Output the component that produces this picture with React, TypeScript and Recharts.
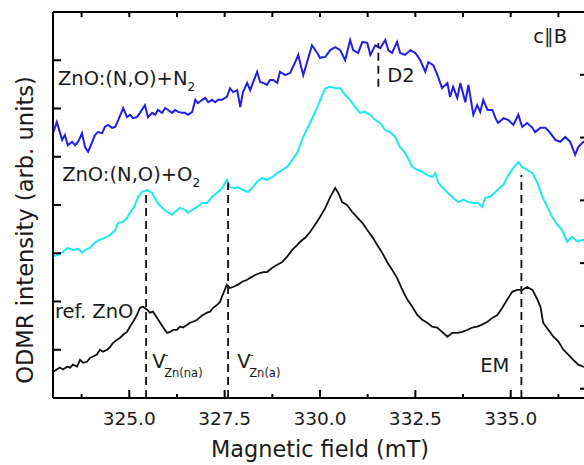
import { LineChart, Line, XAxis, YAxis, ReferenceLine, ReferenceDot } from 'recharts'

const FONT = '"DejaVu Sans", Verdana, sans-serif'
const INK = '#1a1a1a'

// magnetic field axis (mT)
const FIELD_DOMAIN = [323, 337]
const MAJOR_FIELDS = [325, 327.5, 330, 332.5, 335]
const ALL_FIELD_TICKS = [323.75, 325, 326.25, 327.5, 328.75, 330, 331.25, 332.5, 333.75, 335, 336.25]
const LEFT_TICKS = [1, 2, 3, 4, 5, 6, 7]
const RIGHT_TICKS = [0, 1, 2, 3, 4, 5]

// [field mT, ODMR intensity arb. units]
const N2_TRACE: [number, number][] = [
  [323.00, 5.49], [323.10, 5.72], [323.24, 5.35], [323.31, 5.45], [323.39, 5.24], [323.50, 5.31], [323.58, 5.24], [323.66, 5.31],
  [323.76, 5.49], [323.84, 5.20], [323.92, 5.10], [324.02, 5.29], [324.10, 5.45], [324.18, 5.51], [324.29, 5.49], [324.36, 5.62],
  [324.44, 5.66], [324.55, 5.60], [324.63, 5.62], [324.71, 5.76], [324.84, 6.01], [324.94, 5.82], [325.02, 5.87], [325.10, 5.80],
  [325.20, 5.82], [325.28, 5.91], [325.41, 6.07], [325.49, 5.82], [325.60, 5.91], [325.68, 5.87], [325.75, 5.97], [325.86, 5.91],
  [325.94, 6.01], [326.02, 5.97], [326.12, 5.91], [326.20, 5.97], [326.28, 5.93], [326.38, 5.91], [326.46, 5.91], [326.54, 5.87],
  [326.65, 5.93], [326.73, 6.18], [326.80, 6.11], [326.91, 6.18], [326.99, 6.22], [327.07, 6.13], [327.17, 6.18], [327.25, 6.13],
  [327.33, 6.18], [327.43, 6.18], [327.56, 6.24], [327.64, 6.42], [327.72, 6.34], [327.83, 6.38], [327.91, 6.03], [327.98, 6.34],
  [328.09, 6.53], [328.17, 6.38], [328.25, 6.55], [328.35, 6.76], [328.43, 6.55], [328.51, 6.53], [328.61, 6.49], [328.69, 6.59],
  [328.77, 6.59], [328.88, 6.53], [328.95, 6.76], [329.09, 6.69], [329.22, 6.74], [329.35, 6.96], [329.43, 7.11], [329.56, 6.69],
  [329.66, 6.96], [329.79, 7.31], [329.93, 7.15], [330.00, 7.05], [330.14, 7.07], [330.27, 7.21], [330.40, 7.27], [330.53, 7.21],
  [330.66, 7.00], [330.79, 7.42], [330.87, 7.21], [331.00, 7.15], [331.11, 7.38], [331.24, 7.36], [331.32, 7.11], [331.45, 7.31],
  [331.58, 7.25], [331.71, 7.42], [331.79, 7.21], [331.89, 7.15], [332.02, 7.38], [332.10, 7.15], [332.23, 7.11], [332.37, 7.21],
  [332.50, 7.15], [332.63, 7.00], [332.76, 6.76], [332.84, 6.96], [332.97, 6.90], [333.10, 6.65], [333.20, 6.42], [333.34, 6.53],
  [333.41, 6.24], [333.49, 6.45], [333.60, 6.22], [333.68, 6.53], [333.81, 6.13], [333.89, 6.49], [334.02, 5.87], [334.12, 6.07],
  [334.20, 5.93], [334.28, 6.18], [334.39, 5.97], [334.52, 5.97], [334.60, 5.80], [334.67, 5.70], [334.81, 5.80], [334.94, 5.76],
  [335.07, 5.66], [335.20, 5.87], [335.30, 5.62], [335.43, 5.70], [335.57, 5.60], [335.64, 5.51], [335.78, 5.60], [335.91, 5.60],
  [336.04, 5.49], [336.17, 5.35], [336.30, 5.31], [336.43, 5.41], [336.56, 5.31], [336.69, 5.04], [336.77, 5.20], [336.88, 5.29],
  [336.98, 5.35],
]

const O2_TRACE: [number, number][] = [
  [323.00, 2.93], [323.13, 2.97], [323.26, 3.03], [323.39, 3.11], [323.52, 3.07], [323.66, 3.09], [323.76, 3.01], [323.89, 3.09],
  [323.97, 3.11], [324.10, 3.22], [324.23, 3.28], [324.36, 3.32], [324.50, 3.38], [324.63, 3.48], [324.71, 3.63], [324.84, 3.65],
  [324.94, 3.73], [325.07, 3.90], [325.15, 4.00], [325.23, 4.17], [325.33, 4.27], [325.47, 4.31], [325.60, 4.25], [325.73, 4.06],
  [325.86, 3.94], [325.99, 3.86], [326.12, 3.80], [326.20, 3.86], [326.33, 3.94], [326.46, 3.90], [326.54, 3.84], [326.65, 3.90],
  [326.78, 3.96], [326.91, 4.04], [327.04, 4.04], [327.17, 4.17], [327.30, 4.25], [327.43, 4.35], [327.56, 4.52], [327.64, 4.37],
  [327.77, 4.35], [327.85, 4.37], [327.98, 4.31], [328.12, 4.27], [328.22, 4.35], [328.35, 4.48], [328.48, 4.56], [328.61, 4.52],
  [328.75, 4.58], [328.88, 4.66], [329.01, 4.73], [329.14, 4.79], [329.27, 4.93], [329.40, 5.08], [329.56, 5.41], [329.74, 5.70],
  [329.93, 6.03], [330.06, 6.28], [330.14, 6.42], [330.27, 6.45], [330.40, 6.42], [330.53, 6.42], [330.66, 6.28], [330.79, 6.18],
  [330.92, 6.03], [331.05, 5.91], [331.18, 5.93], [331.32, 5.87], [331.45, 5.76], [331.58, 5.70], [331.71, 5.55], [331.84, 5.51],
  [331.97, 5.41], [332.10, 5.20], [332.23, 5.08], [332.42, 4.79], [332.55, 4.73], [332.68, 4.69], [332.81, 4.62], [332.94, 4.58],
  [333.02, 4.66], [333.10, 4.46], [333.23, 4.35], [333.36, 4.25], [333.49, 4.15], [333.62, 4.06], [333.76, 4.11], [333.89, 4.06],
  [334.02, 4.04], [334.15, 4.04], [334.25, 3.96], [334.33, 4.15], [334.46, 4.17], [334.60, 4.27], [334.73, 4.37], [334.81, 4.42],
  [334.94, 4.62], [335.07, 4.77], [335.20, 4.89], [335.30, 4.79], [335.43, 4.73], [335.57, 4.66], [335.70, 4.46], [335.83, 4.17],
  [335.96, 3.96], [336.09, 3.75], [336.22, 3.59], [336.35, 3.48], [336.48, 3.24], [336.61, 3.34], [336.75, 3.24], [336.88, 3.28],
  [336.98, 3.26],
]

const REF_TRACE: [number, number][] = [
  [323.00, 0.54], [323.10, 0.59], [323.18, 0.63], [323.26, 0.59], [323.37, 0.65], [323.45, 0.63], [323.52, 0.69], [323.63, 0.65],
  [323.71, 0.79], [323.79, 0.73], [323.89, 0.75], [323.97, 0.83], [324.05, 0.86], [324.15, 0.90], [324.23, 1.00], [324.31, 0.96],
  [324.42, 1.00], [324.50, 1.06], [324.57, 1.14], [324.68, 1.21], [324.76, 1.25], [324.84, 1.31], [324.94, 1.37], [325.02, 1.48],
  [325.10, 1.58], [325.20, 1.72], [325.28, 1.87], [325.36, 1.89], [325.47, 1.83], [325.54, 1.77], [325.62, 1.79], [325.73, 1.66],
  [325.81, 1.56], [325.89, 1.46], [325.99, 1.35], [326.07, 1.37], [326.15, 1.41], [326.25, 1.41], [326.33, 1.48], [326.41, 1.46],
  [326.52, 1.52], [326.59, 1.56], [326.67, 1.58], [326.78, 1.62], [326.86, 1.68], [326.93, 1.72], [327.04, 1.77], [327.12, 1.79],
  [327.20, 1.87], [327.30, 1.93], [327.38, 1.99], [327.43, 2.10], [327.56, 2.35], [327.64, 2.28], [327.72, 2.30], [327.85, 2.35],
  [327.96, 2.41], [328.09, 2.45], [328.17, 2.49], [328.30, 2.55], [328.43, 2.59], [328.51, 2.61], [328.61, 2.61], [328.75, 2.70],
  [328.88, 2.76], [329.01, 2.82], [329.14, 2.93], [329.27, 3.07], [329.40, 3.17], [329.48, 3.24], [329.61, 3.32], [329.74, 3.44],
  [329.87, 3.59], [330.00, 3.75], [330.14, 3.94], [330.27, 4.17], [330.40, 4.35], [330.48, 4.25], [330.58, 4.06], [330.71, 4.00],
  [330.84, 3.86], [330.97, 3.75], [331.11, 3.63], [331.24, 3.48], [331.37, 3.34], [331.50, 3.17], [331.63, 3.01], [331.76, 2.82],
  [331.89, 2.66], [332.02, 2.49], [332.16, 2.24], [332.29, 2.04], [332.42, 1.89], [332.55, 1.72], [332.68, 1.62], [332.81, 1.56],
  [332.94, 1.48], [333.07, 1.46], [333.20, 1.37], [333.34, 1.27], [333.47, 1.35], [333.60, 1.35], [333.73, 1.37], [333.86, 1.41],
  [333.99, 1.46], [334.12, 1.48], [334.25, 1.52], [334.39, 1.58], [334.52, 1.66], [334.65, 1.72], [334.78, 1.87], [334.91, 2.04],
  [335.04, 2.20], [335.17, 2.24], [335.30, 2.24], [335.43, 2.30], [335.57, 2.24], [335.70, 2.04], [335.78, 1.89], [335.85, 1.56],
  [335.99, 1.41], [336.12, 1.27], [336.25, 1.17], [336.38, 1.00], [336.51, 0.90], [336.64, 0.79], [336.77, 0.69], [336.90, 0.65],
  [336.98, 0.63],
]

// dashed markers: [field, from, to]
const MARKERS: [number, number, number][] = [
  [325.44, 0, 4.21],
  [327.59, 0, 4.46],
  [335.28, 0, 4.62],
  [331.53, 6.45, 7.36],
]

const TEXT_NOTES = [
  { field: 323.13, level: 6.49, text: 'ZnO:(N,O)+N', sub: '2' },
  { field: 323.24, level: 4.5, text: 'ZnO:(N,O)+O', sub: '2' },
  { field: 323.05, level: 1.66, text: 'ref. ZnO' },
  { field: 335.59, level: 7.36, text: 'c∥B' },
  { field: 331.76, level: 6.55, text: 'D2' },
  { field: 334.2, level: 0.54, text: 'EM' },
]

const DEFECT_NOTES = [
  { field: 325.6, level: 0.63, site: 'Zn(na)' },
  { field: 327.83, level: 0.63, site: 'Zn(a)' },
]

const toRows = (trace: [number, number][]) => trace.map(([field, odmr]) => ({ field, odmr }))

function BottomTick(props: any) {
  const { x, y, payload } = props
  const major = MAJOR_FIELDS.includes(payload.value)
  return (
    <g>
      <line x1={x} x2={x} y1={y} y2={y - (major ? 8 : 4)} stroke="#000" strokeWidth={2} />
      {major && (
        <text x={x} y={y + 27} textAnchor="middle" fontSize={18.5} fontFamily={FONT} fill={INK}>
          {payload.value.toFixed(1)}
        </text>
      )}
    </g>
  )
}

function TopTick(props: any) {
  const { x, y } = props
  return <line x1={x} x2={x} y1={y} y2={y + 5} stroke="#000" strokeWidth={2} />
}

function LeftTick(props: any) {
  const { x, y } = props
  return <line x1={x} x2={x + 8} y1={y} y2={y} stroke="#000" strokeWidth={2} />
}

function RightTick(props: any) {
  const { x, y } = props
  return <line x1={x} x2={x - 7} y1={y} y2={y} stroke="#000" strokeWidth={2} />
}

function noteLabel(note: { text: string; sub?: string }) {
  return (props: any) => {
    const vb = props.viewBox || {}
    return (
      <text x={vb.x} y={vb.y} fontSize={19.5} fontFamily={FONT} fill={INK}>
        {note.text}
        {note.sub && (
          <tspan dy={6} fontSize={12}>
            {note.sub}
          </tspan>
        )}
      </text>
    )
  }
}

function defectLabel(site: string) {
  return (props: any) => {
    const vb = props.viewBox || {}
    return (
      <text x={vb.x} y={vb.y} fontSize={19.5} fontFamily={FONT} fill={INK}>
        V
        <tspan dx={-1} dy={-10} fontSize={11}>
          -
        </tspan>
        <tspan x={vb.x + 12} dy={19} fontSize={11.5}>
          {site}
        </tspan>
      </text>
    )
  }
}

export default function App() {
  return (
    <div style={{ position: 'absolute', left: 0, top: 0, width: 584, height: 465, overflow: 'hidden', background: '#fff' }}>
      <LineChart width={600} height={465} margin={{ top: 11, right: 12, bottom: 0, left: 0 }}>
        <XAxis
          dataKey="field"
          type="number"
          domain={FIELD_DOMAIN}
          allowDataOverflow
          ticks={ALL_FIELD_TICKS}
          interval={0}
          height={67}
          tickSize={0}
          tickMargin={0}
          tickLine={false}
          tick={(p: any) => <BottomTick {...p} />}
          axisLine={{ stroke: '#000', strokeWidth: 2 }}
          label={{
            content: (p: any) => {
              const vb = p.viewBox || {}
              return (
                <text x={vb.x + vb.width / 2} y={vb.y + 59} textAnchor="middle" fontSize={22.4} fontFamily={FONT} fill={INK}>
                  Magnetic field (mT)
                </text>
              )
            },
          }}
        />
        <XAxis
          xAxisId="top"
          orientation="top"
          dataKey="field"
          type="number"
          domain={FIELD_DOMAIN}
          allowDataOverflow
          ticks={ALL_FIELD_TICKS}
          interval={0}
          height={1}
          tickSize={0}
          tickMargin={0}
          tickLine={false}
          tick={(p: any) => <TopTick {...p} />}
          axisLine={{ stroke: '#000', strokeWidth: 2 }}
        />
        <YAxis
          type="number"
          domain={[0, 8]}
          allowDataOverflow
          ticks={LEFT_TICKS}
          interval={0}
          width={53}
          tickSize={0}
          tickMargin={0}
          tickLine={false}
          tick={(p: any) => <LeftTick {...p} />}
          axisLine={{ stroke: '#000', strokeWidth: 2 }}
          label={{
            content: (p: any) => {
              const vb = p.viewBox || {}
              const cx = vb.x + 33
              const cy = vb.y + 218
              return (
                <text x={cx} y={cy} transform={`rotate(-90, ${cx}, ${cy})`} textAnchor="middle" fontSize={22.6} fontFamily={FONT} fill={INK}>
                  ODMR intensity (arb. units)
                </text>
              )
            },
          }}
        />
        <YAxis
          yAxisId="right"
          orientation="right"
          type="number"
          domain={[-0.148, 6]}
          allowDataOverflow
          ticks={RIGHT_TICKS}
          interval={0}
          width={1}
          tickSize={0}
          tickMargin={0}
          tickLine={false}
          tick={(p: any) => <RightTick {...p} />}
          axisLine={{ stroke: '#000', strokeWidth: 2 }}
        />

        <Line data={toRows(N2_TRACE)} dataKey="odmr" type="linear" stroke="#1f1fe6" strokeWidth={2} dot={false} activeDot={false} isAnimationActive={false} />
        <Line data={toRows(O2_TRACE)} dataKey="odmr" type="linear" stroke="#1de9f2" strokeWidth={2} dot={false} activeDot={false} isAnimationActive={false} />
        <Line data={toRows(REF_TRACE)} dataKey="odmr" type="linear" stroke="#111" strokeWidth={1.8} dot={false} activeDot={false} isAnimationActive={false} />

        {MARKERS.map(([field, from, to]) => (
          <ReferenceLine
            key={`m-${field}`}
            segment={[
              { x: field, y: from },
              { x: field, y: to },
            ]}
            stroke="#111"
            strokeWidth={1.8}
            strokeDasharray="8 5"
            ifOverflow="visible"
          />
        ))}

        {TEXT_NOTES.map((note) => (
          <ReferenceDot key={note.text} x={note.field} y={note.level} r={0} fill="none" stroke="none" label={noteLabel(note)} />
        ))}
        {DEFECT_NOTES.map((note) => (
          <ReferenceDot key={note.site} x={note.field} y={note.level} r={0} fill="none" stroke="none" label={defectLabel(note.site)} />
        ))}
      </LineChart>
    </div>
  )
}
